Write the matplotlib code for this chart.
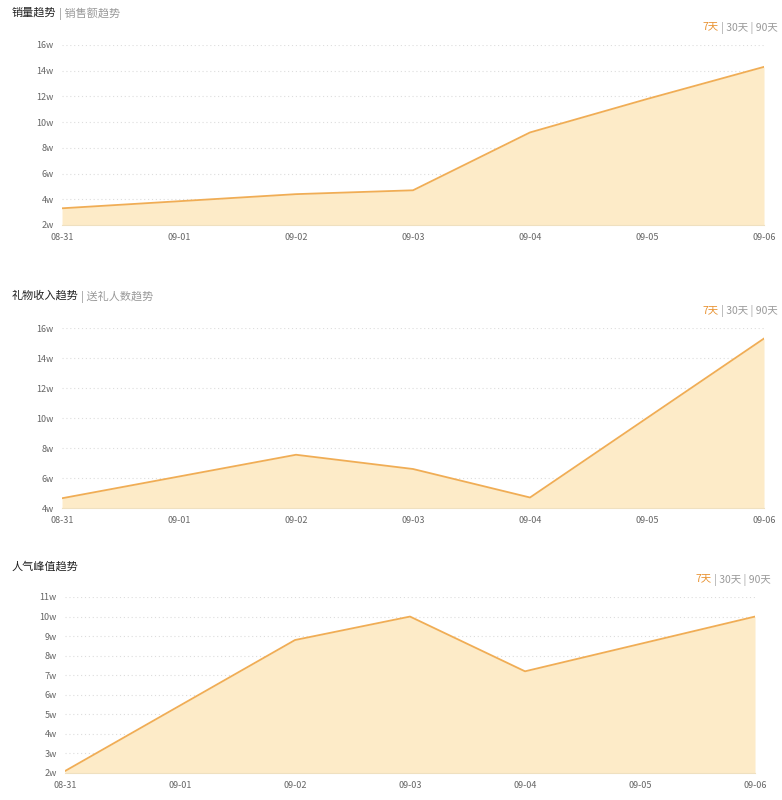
import matplotlib.pyplot as plt

plt.rcParams['font.family'] = ['Noto Sans CJK SC', 'DejaVu Sans']

# 数据
dates = ['08-31', '09-01', '09-02', '09-03', '09-04', '09-05', '09-06']
sales = [3.3, 3.85, 4.4, 4.7, 9.2, 11.8, 14.3]
gifts = [4.65, 6.1, 7.55, 6.6, 4.7, 10.0, 15.3]
peak = [2.1, 5.45, 8.8, 10.0, 7.2, 8.6, 10.0]

titles = [('销量趋势', '销售额趋势'), ('礼物收入趋势', '送礼人数趋势'), ('人气峰值趋势', None)]
series = [sales, gifts, peak]
ylims = [(2, 16, 2), (4, 16, 2), (2, 11, 1)]

# 坐标区位置 [left, bottom, width, height]
boxes = [[0.0793, 0.71875, 0.8977, 0.225],
         [0.0793, 0.365, 0.8977, 0.225],
         [0.0831, 0.03375, 0.8824, 0.22]]
title_y = [0.991, 0.637, 0.299]
switch_y = [0.973, 0.619, 0.283]
switch_x = [0.994, 0.994, 0.986]

line_c = '#f0ad55'
fill_c = '#fdebc8'

fig = plt.figure(figsize=(7.82, 8), dpi=100)
for i in range(3):
    ax = fig.add_axes(boxes[i])
    x = list(range(len(dates)))
    lo, hi, step = ylims[i]
    ax.fill_between(x, lo, series[i], color=fill_c, linewidth=0)
    ax.plot(x, series[i], color=line_c, linewidth=1.3)
    ax.set_xlim(0, len(dates) - 1)
    ax.set_ylim(lo, hi)
    ax.set_yticks(range(lo, hi + 1, step))
    ax.set_yticklabels(['%dw' % v for v in range(lo, hi + 1, step)])
    ax.set_xticks(x)
    ax.set_xticklabels(dates)
    ax.tick_params(length=0, labelsize=6.5, colors='#666666', pad=6)
    ax.grid(axis='y', linestyle=(0, (1, 2.5)), color='#dddddd', linewidth=0.8)
    for s in ['top', 'right', 'left']:
        ax.spines[s].set_visible(False)
    ax.spines['bottom'].set_color('#efe0c0')
    ax.set_axisbelow(True)

    # 标题
    t1, t2 = titles[i]
    tx = fig.text(0.015, title_y[i], t1, fontsize=8, color='#222222', va='top')
    if t2:
        fig.canvas.draw()
        bb = tx.get_window_extent().transformed(fig.transFigure.inverted())
        fig.text(bb.x1 + 0.003, title_y[i], '| ' + t2, fontsize=8, color='#999999', va='top')

    # 右侧切换
    a = fig.text(switch_x[i], switch_y[i], '| 30天 | 90天', fontsize=7.5, color='#999999',
                 va='top', ha='right')
    fig.canvas.draw()
    bb = a.get_window_extent().transformed(fig.transFigure.inverted())
    fig.text(bb.x0 - 0.003, switch_y[i], '7天', fontsize=7.5, color='#e8912f', va='top', ha='right')

plt.savefig('out.png', dpi=100)
